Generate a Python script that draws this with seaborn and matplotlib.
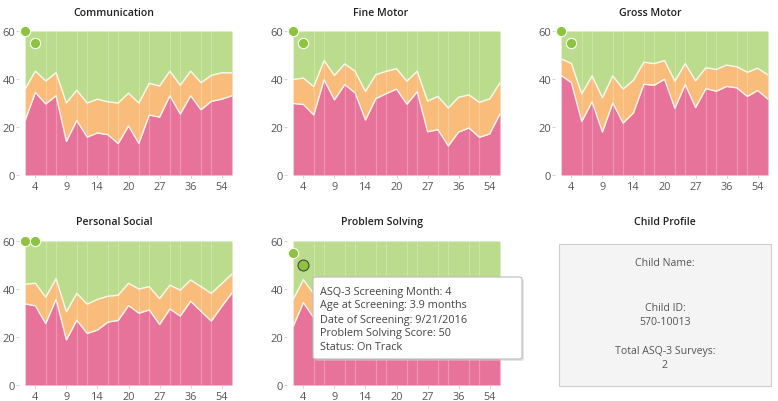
import matplotlib
matplotlib.use("Agg")
import matplotlib.pyplot as plt
import seaborn as sns
import pandas as pd
from matplotlib.patches import FancyBboxPatch, Rectangle

# ASQ-3 screening months (category axis)
months = [2, 4, 6, 8, 9, 10, 12, 14, 16, 18, 20, 22, 24, 27, 30, 33, 36, 42, 48, 54, 60]
shown_months = [4, 9, 14, 20, 27, 36, 54]

# cutoff (pink top) and monitoring (orange top) per domain
comm_cut = [22.7, 34.4, 29.6, 33.0, 14.0, 22.7, 15.8, 17.5, 16.8, 13.1, 20.4,
            13.2, 25.0, 24.1, 33.0, 25.4, 33.0, 27.2, 30.7, 31.6, 33.0]
comm_mon = [35.8, 43.3, 39.2, 42.6, 30.0, 35.3, 30.0, 31.6, 30.5, 30.0, 34.1,
            30.0, 38.2, 37.1, 43.3, 37.4, 43.3, 38.5, 41.5, 42.6, 42.6]

fine_cut = [29.8, 29.4, 25.0, 39.7, 31.3, 37.7, 34.2, 22.9, 31.8, 33.9, 35.8,
            29.5, 34.7, 18.0, 18.9, 12.1, 17.9, 19.6, 15.7, 17.1, 25.5]
fine_mon = [39.8, 40.4, 36.8, 47.7, 41.5, 46.3, 43.2, 34.8, 41.8, 43.2, 44.3,
            39.1, 43.2, 30.8, 32.8, 27.9, 32.4, 33.4, 30.3, 31.7, 38.4]

gross_cut = [41.5, 38.5, 22.3, 30.5, 17.9, 30.0, 21.6, 25.9, 37.8, 37.4, 39.9,
             27.8, 37.7, 28.1, 36.0, 34.9, 36.9, 36.3, 32.7, 35.2, 31.6]
gross_mon = [48.4, 46.5, 33.8, 41.3, 32.2, 41.3, 35.8, 39.5, 47.0, 46.4, 47.7,
             39.1, 46.4, 39.3, 44.7, 44.0, 45.8, 45.1, 42.8, 44.5, 41.7]

social_cut = [33.8, 33.0, 25.6, 35.7, 18.8, 27.0, 21.5, 22.9, 26.2, 26.9, 33.1,
              29.9, 31.3, 25.2, 31.7, 28.7, 34.9, 30.7, 26.6, 32.7, 38.4]
social_mon = [42.0, 42.4, 36.6, 44.3, 30.5, 38.2, 33.7, 35.7, 37.0, 37.4, 42.4,
              40.0, 41.0, 36.0, 41.6, 39.5, 43.8, 41.0, 38.2, 42.2, 46.3]

problem_cut = [24.3, 34.3, 28.0, 33.0, 20.0, 27.0, 22.0, 25.0, 28.0, 26.0, 32.0,
               27.0, 30.0, 24.0, 29.0, 26.0, 31.0, 28.0, 27.0, 30.0, 33.0]
problem_mon = [35.6, 43.9, 38.0, 42.0, 31.0, 37.0, 33.0, 35.0, 38.0, 36.0, 41.0,
               37.0, 40.0, 34.0, 39.0, 36.0, 41.0, 38.0, 37.0, 40.0, 42.0]

# child scores (month, score)
score_months = [2, 4]
comm_scores = [60, 55]
fine_scores = [60, 55]
gross_scores = [60, 55]
social_scores = [60, 60]
problem_scores = [55, 50]

PINK = "#E8739A"
ORANGE = "#F9BC7A"
GREEN = "#BBDC8C"
DOT = "#8CC43F"
MAX_SCORE = 60

W, H = 778, 402


def fx(x):
    return x / W


def fy(y):
    return 1 - y / H


sns.set_theme(style="white")
plt.rcParams["font.family"] = ["Open Sans", "DejaVu Sans"]

fig = plt.figure(figsize=(W / 100, H / 100), dpi=100)

panels = [
    ("Communication", comm_cut, comm_mon, comm_scores, (25, 32), 114),
    ("Fine Motor", fine_cut, fine_mon, fine_scores, (293, 32), 381),
    ("Gross Motor", gross_cut, gross_mon, gross_scores, (561, 32), 650),
    ("Personal Social", social_cut, social_mon, social_scores, (25, 242), 114),
    ("Problem Solving", problem_cut, problem_mon, problem_scores, (293, 242), 382),
]

for title, cut, mon, scores, (left, top), tx in panels:
    ax = fig.add_axes([fx(left), fy(top + 144), 207 / W, 144 / H])
    idx = list(range(len(months)))
    df = pd.DataFrame({"i": idx, "cut": cut, "mon": mon})

    ax.fill_between(df["i"], 0, df["cut"], color=PINK, lw=0, zorder=1)
    ax.fill_between(df["i"], df["cut"], df["mon"], color=ORANGE, lw=0, zorder=1)
    ax.fill_between(df["i"], df["mon"], MAX_SCORE, color=GREEN, lw=0, zorder=1)
    sns.lineplot(data=df, x="i", y="cut", ax=ax, color="white", lw=1.0, alpha=0.85, zorder=2)
    sns.lineplot(data=df, x="i", y="mon", ax=ax, color="white", lw=1.0, alpha=0.85, zorder=2)

    sdf = pd.DataFrame({"i": [months.index(m) for m in score_months], "score": scores})
    sns.scatterplot(data=sdf, x="i", y="score", ax=ax, color=DOT, s=55,
                    edgecolor="white", linewidth=0.8, zorder=6, clip_on=False)
    if title == "Problem Solving":
        ax.scatter(sdf["i"].iloc[1], sdf["score"].iloc[1], s=62, facecolor=DOT,
                   edgecolor="#444444", linewidth=0.8, zorder=7, clip_on=False)

    ax.set_xlim(0, len(months) - 1)
    ax.set_ylim(0, MAX_SCORE)
    ax.set_xticks([months.index(m) for m in shown_months])
    ax.set_xticklabels([str(m) for m in shown_months])
    ax.set_xticks(idx, minor=True)
    ax.set_yticks([0, 20, 40, 60])
    ax.set_axisbelow(False)
    ax.grid(False)
    ax.grid(axis="x", which="minor", color="white", lw=0.8, alpha=0.25)
    ax.tick_params(axis="x", which="major", length=2, width=0.6, color="#cccccc",
                   labelsize=7.8, labelcolor="#555555", pad=2, bottom=True)
    ax.tick_params(axis="x", which="minor", length=0)
    ax.tick_params(axis="y", length=2.5, width=0.6, color="#cccccc",
                   labelsize=8, labelcolor="#555555", pad=0.5, left=True)
    for s in ax.spines.values():
        s.set_visible(False)
    ax.spines["left"].set_position(("outward", 4))
    ax.set_xlabel("")
    ax.set_ylabel("")
    fig.text(fx(tx), fy(top - 19), title, ha="center", va="center",
             fontsize=7.6, fontweight="semibold", color="#222222")

# Child profile box
fig.text(fx(665), fy(223), "Child Profile", ha="center", va="center",
         fontsize=7.6, fontweight="semibold", color="#222222")
fig.patches.append(Rectangle((fx(559), fy(387)), 212 / W, 142 / H, transform=fig.transFigure,
                             facecolor="#F4F4F4", edgecolor="#CFCFCF", lw=0.8))
for txt, y in [("Child Name:", 264), ("Child ID:", 309), ("570-10013", 323),
               ("Total ASQ-3 Surveys:", 352), ("2", 366)]:
    fig.text(fx(665), fy(y), txt, ha="center", va="center", fontsize=7.6, color="#555555")

# tooltip for hovered point
fig.patches.append(FancyBboxPatch((fx(315), fy(362)), 209 / W, 82 / H,
                                  boxstyle="round,pad=0,rounding_size=0.004",
                                  transform=fig.transFigure, facecolor="#cccccc",
                                  edgecolor="none", alpha=0.5, zorder=8))
fig.patches.append(FancyBboxPatch((fx(313), fy(360)), 209 / W, 82 / H,
                                  boxstyle="round,pad=0,rounding_size=0.004",
                                  transform=fig.transFigure, facecolor="white",
                                  edgecolor="#bbbbbb", lw=0.8, zorder=9))
tip_lines = ["ASQ-3 Screening Month: 4", "Age at Screening: 3.9 months",
             "Date of Screening: 9/21/2016", "Problem Solving Score: 50",
             "Status: On Track"]
for k, line in enumerate(tip_lines):
    fig.text(fx(320), fy(292 + k * 14), line, ha="left", va="center",
             fontsize=7.8, color="#444444", zorder=10)

fig.savefig("out.png", dpi=100)
